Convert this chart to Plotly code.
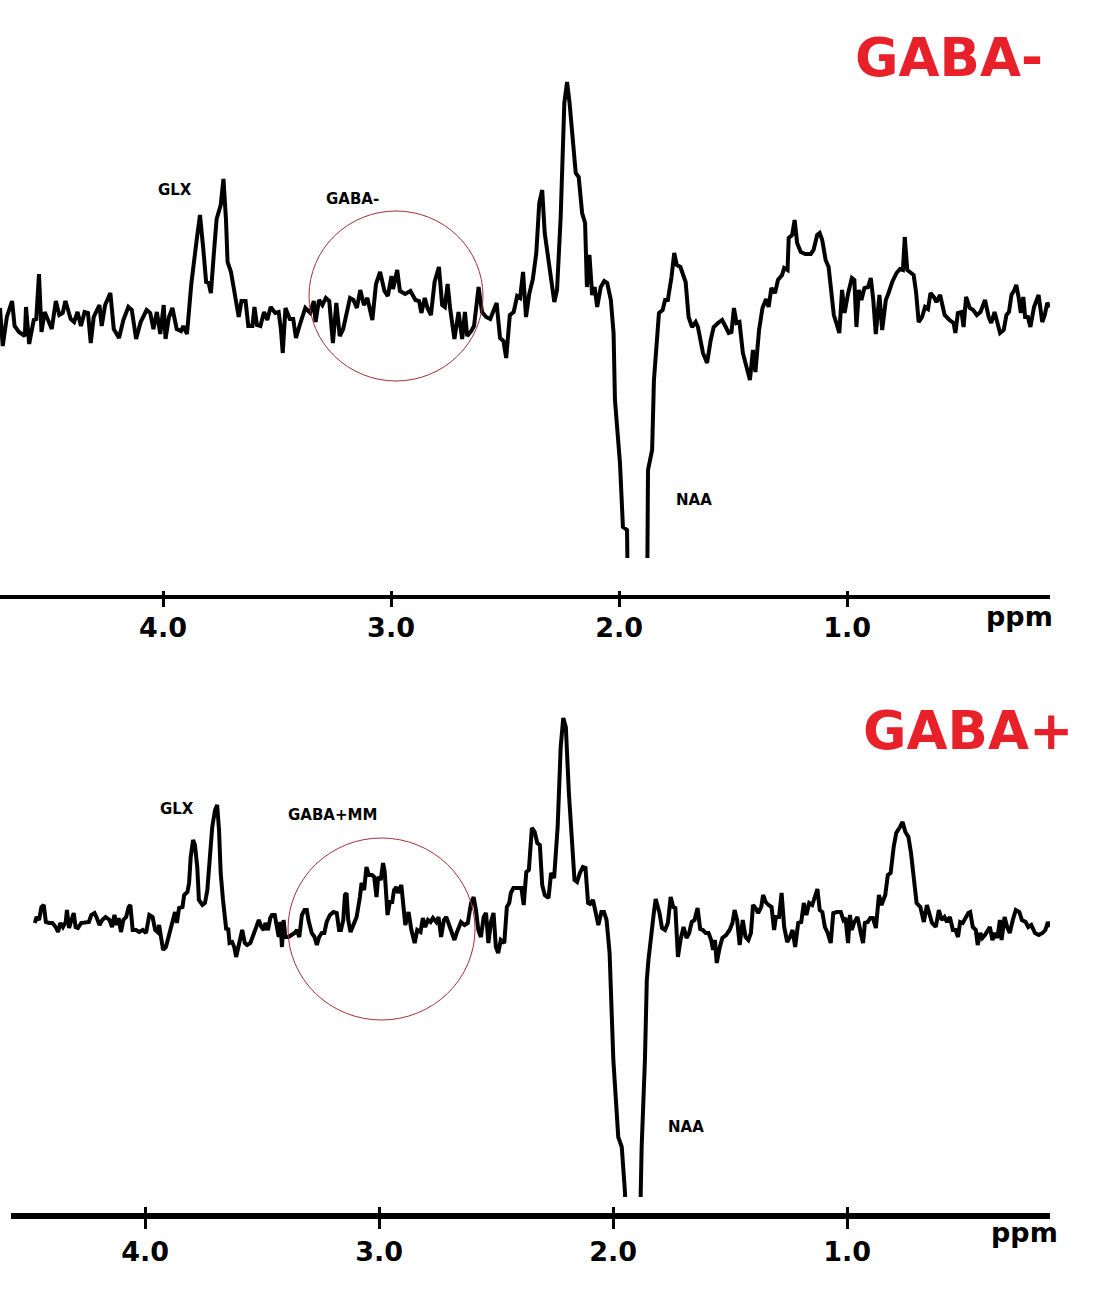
import plotly.graph_objects as go

# Espectro GABA- (editado off): desplazamiento químico (ppm) e intensidad (u.a.)
ppm_gaba_menos = [
    4.715, 4.703, 4.685, 4.662, 4.651, 4.632, 4.606, 4.601, 4.587, 4.567, 4.556, 4.544, 4.533, 4.519,
    4.488, 4.470, 4.455, 4.440, 4.428, 4.405, 4.390, 4.375, 4.360, 4.344, 4.329, 4.317, 4.304, 4.279,
    4.269, 4.254, 4.231, 4.216, 4.193, 4.174, 4.152, 4.137, 4.118, 4.098, 4.072, 4.056, 4.042, 4.027,
    4.012, 3.997, 3.989, 3.974, 3.959, 3.940, 3.921, 3.911, 3.895, 3.876, 3.853, 3.838, 3.823, 3.811,
    3.800, 3.790, 3.777, 3.765, 3.747, 3.735, 3.724, 3.717, 3.702, 3.686, 3.668, 3.656, 3.638, 3.626,
    3.608, 3.599, 3.588, 3.573, 3.557, 3.543, 3.528, 3.508, 3.493, 3.483, 3.475, 3.463, 3.444, 3.429,
    3.417, 3.399, 3.376, 3.354, 3.339, 3.331, 3.316, 3.301, 3.286, 3.271, 3.255, 3.240, 3.225, 3.210,
    3.195, 3.180, 3.165, 3.150, 3.135, 3.119, 3.104, 3.082, 3.066, 3.048, 3.029, 3.014, 2.998, 2.991,
    2.973, 2.961, 2.938, 2.915, 2.893, 2.877, 2.867, 2.852, 2.840, 2.825, 2.809, 2.790, 2.776, 2.764,
    2.752, 2.741, 2.722, 2.704, 2.688, 2.676, 2.666, 2.648, 2.636, 2.616, 2.601, 2.583, 2.565, 2.537,
    2.522, 2.507, 2.495, 2.479, 2.462, 2.447, 2.434, 2.421, 2.408, 2.394, 2.378, 2.363, 2.350, 2.337,
    2.326, 2.311, 2.295, 2.284, 2.272, 2.256, 2.240, 2.228, 2.217, 2.201, 2.190, 2.177, 2.162, 2.149,
    2.141, 2.130, 2.118, 2.107, 2.096, 2.080, 2.065, 2.052, 2.036, 2.024, 2.018, 1.996, 1.983, 1.965,
    1.961, 1.921, 1.877, 1.873, 1.855, 1.847, 1.840, 1.825, 1.809, 1.798, 1.786, 1.770, 1.758, 1.747,
    1.731, 1.708, 1.695, 1.680, 1.664, 1.654, 1.632, 1.614, 1.598, 1.585, 1.566, 1.548, 1.532, 1.519,
    1.507, 1.496, 1.485, 1.472, 1.457, 1.441, 1.426, 1.413, 1.402, 1.386, 1.371, 1.355, 1.344, 1.332,
    1.316, 1.303, 1.285, 1.276, 1.261, 1.256, 1.241, 1.230, 1.219, 1.203, 1.183, 1.159, 1.147, 1.131,
    1.120, 1.109, 1.094, 1.081, 1.068, 1.058, 1.047, 1.034, 1.022, 1.011, 0.995, 0.979, 0.968, 0.959,
    0.948, 0.937, 0.924, 0.908, 0.896, 0.885, 0.874, 0.858, 0.846, 0.830, 0.818, 0.802, 0.783, 0.768,
    0.755, 0.747, 0.736, 0.721, 0.708, 0.697, 0.686, 0.671, 0.658, 0.645, 0.634, 0.619, 0.608, 0.592,
    0.583, 0.572, 0.551, 0.533, 0.525, 0.514, 0.498, 0.489, 0.478, 0.462, 0.447, 0.431, 0.415, 0.395,
    0.379, 0.368, 0.353, 0.337, 0.329, 0.313, 0.301, 0.290, 0.279, 0.266, 0.258, 0.247, 0.238, 0.227,
    0.219, 0.207, 0.196, 0.180, 0.160, 0.144, 0.133, 0.122, 0.110,
]
int_gaba_menos = [
    7, -31, -2, 14, -11, -17, -21, 8, -29, -5, -4, 41, -17, 3,
    -14, 14, 0, 2, 14, -4, -7, 3, -11, 3, 2, -28, -2, 10,
    -11, 10, 22, -14, -23, -5, 8, 5, -24, -7, 5, 2, -14, 3,
    -19, 10, -24, -2, 7, -14, -16, -11, -19, 31, 74, 100, 65, 33,
    32, 22, 62, 96, 110, 136, 96, 53, 43, 21, -2, 14, 14, -11,
    -11, 8, -10, -11, 3, -5, 8, 2, 3, -14, -38, 7, -4, -4,
    -23, -9, 7, 2, 14, -7, 15, 10, 17, 14, -28, 12, -21, -14,
    3, 17, 15, 7, 25, 10, 17, -5, 31, 43, 24, 19, 39, 26,
    45, 24, 21, 24, 15, 14, 2, 17, 7, 0, 33, 48, 10, 8,
    31, 7, -24, 3, -24, 3, -21, -16, -11, 28, 3, -2, -4, 12,
    -23, -26, -43, 0, 3, 19, 17, 43, -2, 21, 36, 62, 112, 125,
    82, 55, 28, 13, 25, 98, 212, 233, 212, 165, 142, 138, 102, 92,
    28, 60, 20, 28, 8, 28, 34, 32, 15, -18, -85, -148, -212, -215,
    -290, -400, -290, -155, -135, -65, -45, 2, 5, 15, 15, 38, 62, 50,
    48, 33, -2, -12, -7, -12, -38, -48, -25, -12, -8, -5, -12, -18,
    -17, 7, -8, -7, -38, -52, -65, -35, -57, -15, 7, 16, 8, 27,
    22, 35, 40, 47, 45, 77, 80, 95, 72, 63, 61, 61, 65, 80,
    82, 75, 55, 48, 15, 0, -8, -18, 25, 2, 22, 37, 35, -12,
    25, 15, 27, 28, 37, 15, -19, 20, -15, 15, 22, 33, 42, 46,
    45, 78, 45, 42, 40, 22, -7, -2, 8, 6, 22, 18, 13, 20,
    10, 0, -5, -8, -18, 2, 3, -12, 18, 7, 5, 0, 3, 15,
    -2, -8, 3, -13, -18, -15, 0, 3, 20, 25, 30, 17, 2, 18,
    -2, -2, -12, 8, 20, -7, 0, 12, 8,
]

# Espectro GABA+ (editado on)
ppm_gaba_mas = [
    4.471, 4.464, 4.453, 4.443, 4.433, 4.424, 4.410, 4.396, 4.382, 4.372, 4.362, 4.351, 4.339, 4.334,
    4.325, 4.315, 4.305, 4.297, 4.287, 4.273, 4.254, 4.240, 4.230, 4.216, 4.206, 4.195, 4.183, 4.169,
    4.152, 4.141, 4.131, 4.121, 4.113, 4.103, 4.093, 4.081, 4.070, 4.063, 4.053, 4.039, 4.025, 4.010,
    3.996, 3.982, 3.968, 3.957, 3.947, 3.940, 3.932, 3.923, 3.911, 3.897, 3.883, 3.872, 3.864, 3.855,
    3.840, 3.833, 3.819, 3.812, 3.805, 3.795, 3.787, 3.777, 3.770, 3.755, 3.744, 3.734, 3.724, 3.713,
    3.701, 3.692, 3.684, 3.677, 3.667, 3.659, 3.653, 3.645, 3.639, 3.628, 3.619, 3.611, 3.602, 3.597,
    3.585, 3.574, 3.564, 3.550, 3.540, 3.529, 3.514, 3.503, 3.493, 3.486, 3.475, 3.465, 3.458, 3.446,
    3.436, 3.429, 3.422, 3.415, 3.408, 3.401, 3.387, 3.373, 3.361, 3.351, 3.341, 3.330, 3.319, 3.309,
    3.302, 3.288, 3.276, 3.266, 3.256, 3.245, 3.234, 3.224, 3.210, 3.195, 3.181, 3.171, 3.163, 3.153,
    3.146, 3.139, 3.132, 3.122, 3.110, 3.096, 3.082, 3.075, 3.064, 3.054, 3.044, 3.030, 3.021, 3.011,
    3.004, 2.993, 2.983, 2.976, 2.964, 2.954, 2.944, 2.936, 2.926, 2.919, 2.905, 2.893, 2.888, 2.874,
    2.862, 2.848, 2.837, 2.823, 2.813, 2.803, 2.791, 2.780, 2.770, 2.756, 2.746, 2.735, 2.723, 2.713,
    2.699, 2.689, 2.678, 2.667, 2.650, 2.635, 2.621, 2.607, 2.596, 2.586, 2.576, 2.565, 2.553, 2.543,
    2.533, 2.522, 2.511, 2.501, 2.491, 2.480, 2.465, 2.454, 2.444, 2.437, 2.426, 2.403, 2.392, 2.382,
    2.371, 2.360, 2.347, 2.335, 2.324, 2.313, 2.303, 2.292, 2.276, 2.265, 2.252, 2.237, 2.224, 2.213,
    2.202, 2.189, 2.173, 2.165, 2.154, 2.142, 2.129, 2.118, 2.107, 2.098, 2.086, 2.075, 2.063, 2.050,
    2.039, 2.028, 2.015, 2.008, 1.999, 1.978, 1.963, 1.949, 1.945, 1.915, 1.885, 1.882, 1.878, 1.864,
    1.856, 1.849, 1.838, 1.826, 1.818, 1.802, 1.791, 1.778, 1.766, 1.754, 1.743, 1.734, 1.723, 1.712,
    1.699, 1.686, 1.675, 1.664, 1.652, 1.639, 1.628, 1.617, 1.604, 1.592, 1.581, 1.573, 1.565, 1.557,
    1.544, 1.533, 1.517, 1.502, 1.490, 1.481, 1.470, 1.459, 1.446, 1.434, 1.422, 1.411, 1.402, 1.391,
    1.380, 1.367, 1.359, 1.348, 1.336, 1.323, 1.312, 1.304, 1.291, 1.280, 1.269, 1.256, 1.244, 1.233,
    1.222, 1.209, 1.196, 1.185, 1.174, 1.162, 1.149, 1.138, 1.127, 1.117, 1.106, 1.095, 1.083, 1.070,
    1.059, 1.043, 1.027, 1.016, 1.007, 0.996, 0.988, 0.980, 0.969, 0.956, 0.943, 0.932, 0.924, 0.912,
    0.901, 0.890, 0.877, 0.864, 0.853, 0.837, 0.826, 0.814, 0.801, 0.790, 0.774, 0.763, 0.751, 0.738,
    0.727, 0.716, 0.703, 0.687, 0.672, 0.659, 0.648, 0.637, 0.621, 0.608, 0.596, 0.584, 0.573, 0.561,
    0.548, 0.537, 0.526, 0.517, 0.506, 0.494, 0.482, 0.474, 0.463, 0.450, 0.442, 0.431, 0.422, 0.411,
    0.400, 0.390, 0.379, 0.368, 0.358, 0.347, 0.340, 0.327, 0.316, 0.305, 0.292, 0.279, 0.264, 0.253,
    0.237, 0.226, 0.213, 0.197, 0.181, 0.165, 0.153, 0.142, 0.134,
]
int_gaba_mas = [
    -3, 3, 0, 13, 15, -2, -3, -3, -7, -12, -3, -7, -2, 10,
    -8, 0, 7, -7, -8, -3, -3, -2, 5, 7, 2, -5, 0, 3,
    0, -7, 5, -5, 2, -12, 0, 3, 13, 15, -10, -10, -12, -10,
    -13, 5, 3, -10, -12, -5, -17, -30, -27, -15, -3, 8, -3, 12,
    13, 25, 28, 37, 63, 80, 75, 53, 20, 15, 17, 30, 60, 93,
    110, 115, 90, 47, 20, 0, -10, -8, -23, -22, -27, -37, -27, -20,
    -10, -23, -25, -23, -17, -8, 0, -7, -10, -3, -10, 2, 5, 5,
    -7, -17, -2, -27, 0, -17, -17, -15, -13, -10, -17, 5, 10, 10,
    0, -13, -17, -25, -17, -13, -13, -2, 5, 8, 7, -10, -10, 0,
    25, 27, 0, -12, -5, 3, 23, 37, 30, 53, 45, 45, 43, 23,
    43, 40, 57, 48, 5, 18, 18, 30, 33, 27, 35, 7, -5, 8,
    -10, -23, -10, -12, 2, -7, 0, -2, 2, -2, 3, -17, 0, 3,
    -7, -13, -20, -12, -2, -5, -3, 17, 23, 10, -10, -17, 3, 7,
    -23, -2, 7, -27, -33, -20, -23, 13, 17, 27, 32, 32, 32, 15,
    48, 50, 92, 88, 77, 75, 35, 25, 22, 47, 42, 93, 173, 202,
    193, 127, 73, 40, 38, 47, 53, 52, 17, 16, 20, 7, -5, 8,
    8, 0, -33, -80, -140, -217, -227, -273, -340, -430, -340, -273, -227, -140,
    -60, -40, -13, 7, 21, 7, -8, -10, -3, 23, 13, 12, -37, -20,
    -7, -18, -13, -2, 0, 12, -9, -10, -13, -13, -20, -30, -20, -43,
    -27, -18, -15, -10, -3, 10, 0, -25, 0, -17, -20, -13, 15, 12,
    7, 13, 25, 18, 15, 13, -10, 3, 3, 27, -7, -22, -17, -10,
    -27, -3, -2, 17, 5, 17, 15, 23, 31, 10, 8, -7, -13, -23,
    7, 8, 8, 0, 2, -23, 5, -10, -2, 3, -13, -23, -3, -2,
    2, 2, -8, 25, 15, 25, 45, 47, 73, 87, 93, 98, 88, 83,
    67, 43, 17, 13, -2, 15, 7, -3, -7, 10, 0, 3, -2, 3,
    -10, -10, -17, -2, -3, 2, 7, 8, -7, -10, -25, -13, -18, -15,
    -10, -7, -20, -13, -18, 0, -20, 3, -7, -13, 0, 10, 8, 0,
    -2, -7, -5, -13, -15, -13, -10, -2, -7,
]

marcas_ppm = [4.0, 3.0, 2.0, 1.0]
etiquetas_ppm = ["4.0", "3.0", "2.0", "1.0"]

ANCHO, ALTO = 1112, 1312
ROJO = "#E8202A"
ROJO_CIRCULO = "#A0303A"
FUENTE = "DejaVu Sans"


def px(x):
    return x / ANCHO


def py(y):
    return 1 - y / ALTO


fig = go.Figure()

fig.add_trace(go.Scatter(
    x=ppm_gaba_menos, y=int_gaba_menos, mode="lines",
    line=dict(color="black", width=4), xaxis="x", yaxis="y", showlegend=False
))
fig.add_trace(go.Scatter(
    x=ppm_gaba_mas, y=int_gaba_mas, mode="lines",
    line=dict(color="black", width=4), xaxis="x2", yaxis="y2", showlegend=False
))
# Trazas vacías para que se dibujen los ejes superpuestos (marcas hacia fuera)
fig.add_trace(go.Scatter(x=[], y=[], xaxis="x3", yaxis="y", showlegend=False, hoverinfo="skip"))
fig.add_trace(go.Scatter(x=[], y=[], xaxis="x4", yaxis="y2", showlegend=False, hoverinfo="skip"))

eje_comun = dict(
    tickvals=marcas_ppm, ticktext=etiquetas_ppm,
    showgrid=False, zeroline=False, anchor="free", fixedrange=True,
)
tick_font = dict(family=FUENTE, size=27, color="black", weight="bold")

# Eje con etiquetas: marcas hacia dentro; eje superpuesto: marcas hacia fuera
fig.update_layout(
    width=ANCHO, height=ALTO,
    margin=dict(l=0, r=0, t=0, b=0),
    paper_bgcolor="white", plot_bgcolor="white",
    xaxis=dict(**eje_comun, domain=[0, px(1050)], range=[4.715, 0.110],
               position=py(597), showline=True, linewidth=4, linecolor="black",
               ticks="inside", ticklen=4, tickwidth=3, tickcolor="black",
               ticklabelstandoff=6, tickfont=tick_font),
    xaxis3=dict(**eje_comun, overlaying="x", domain=[0, px(1050)], range=[4.715, 0.110],
                position=py(597), showline=False, ticks="outside", ticklen=9,
                tickwidth=3, tickcolor="black", showticklabels=False),
    yaxis=dict(domain=[py(558), py(60)], range=[-243, 255], visible=False, fixedrange=True),
    xaxis2=dict(**eje_comun, domain=[px(11), px(1050)], range=[4.573, 0.133],
                position=py(1216), showline=True, linewidth=6, linecolor="black",
                ticks="inside", ticklen=6, tickwidth=3, tickcolor="black",
                ticklabelstandoff=10, tickfont=tick_font),
    xaxis4=dict(**eje_comun, overlaying="x2", domain=[px(11), px(1050)], range=[4.573, 0.133],
                position=py(1216), showline=False, ticks="outside", ticklen=12,
                tickwidth=3, tickcolor="black", showticklabels=False),
    yaxis2=dict(domain=[py(1197), py(700)], range=[-277, 220], visible=False, fixedrange=True),
)

# Regiones de GABA marcadas con un círculo
fig.add_shape(type="circle", xref="paper", yref="paper",
              x0=px(309), x1=px(483), y0=py(381), y1=py(211),
              line=dict(color=ROJO_CIRCULO, width=1))
fig.add_shape(type="circle", xref="paper", yref="paper",
              x0=px(288), x1=px(475), y0=py(1020), y1=py(838),
              line=dict(color=ROJO_CIRCULO, width=1))

etiqueta = dict(family=FUENTE, size=15, color="black", weight="bold")
# Etiquetas de metabolitos (coordenadas de datos)
for texto, x, y, xr, yr in [
    ("GLX", 3.947, 125, "x", "y"),
    ("GABA-", 3.167, 116, "x", "y"),
    ("NAA", 1.671, -185, "x", "y"),
    ("GLX", 3.864, 111, "x2", "y2"),
    ("GABA+MM", 3.201, 105, "x2", "y2"),
    ("NAA", 1.688, -207, "x2", "y2"),
]:
    fig.add_annotation(text=texto, x=x, y=y, xref=xr, yref=yr,
                       showarrow=False, font=etiqueta)

# Títulos de cada panel
titulo = dict(family=FUENTE, size=53, color=ROJO, weight="bold")
fig.add_annotation(text="GABA-", x=px(949), y=py(57), xref="paper", yref="paper",
                   xanchor="center", yanchor="middle", showarrow=False, font=titulo)
fig.add_annotation(text="GABA+", x=px(968), y=py(730), xref="paper", yref="paper",
                   xanchor="center", yanchor="middle", showarrow=False, font=titulo)

# Unidad del eje
unidad = dict(family=FUENTE, size=27, color="black", weight="bold")
fig.add_annotation(text="ppm", x=px(1019), y=py(616), xref="paper", yref="paper",
                   xanchor="center", yanchor="middle", showarrow=False, font=unidad)
fig.add_annotation(text="ppm", x=px(1024), y=py(1232), xref="paper", yref="paper",
                   xanchor="center", yanchor="middle", showarrow=False, font=unidad)

fig.write_html("out.html", config={"displayModeBar": False},
               post_script="document.body.style.margin = '0';")
